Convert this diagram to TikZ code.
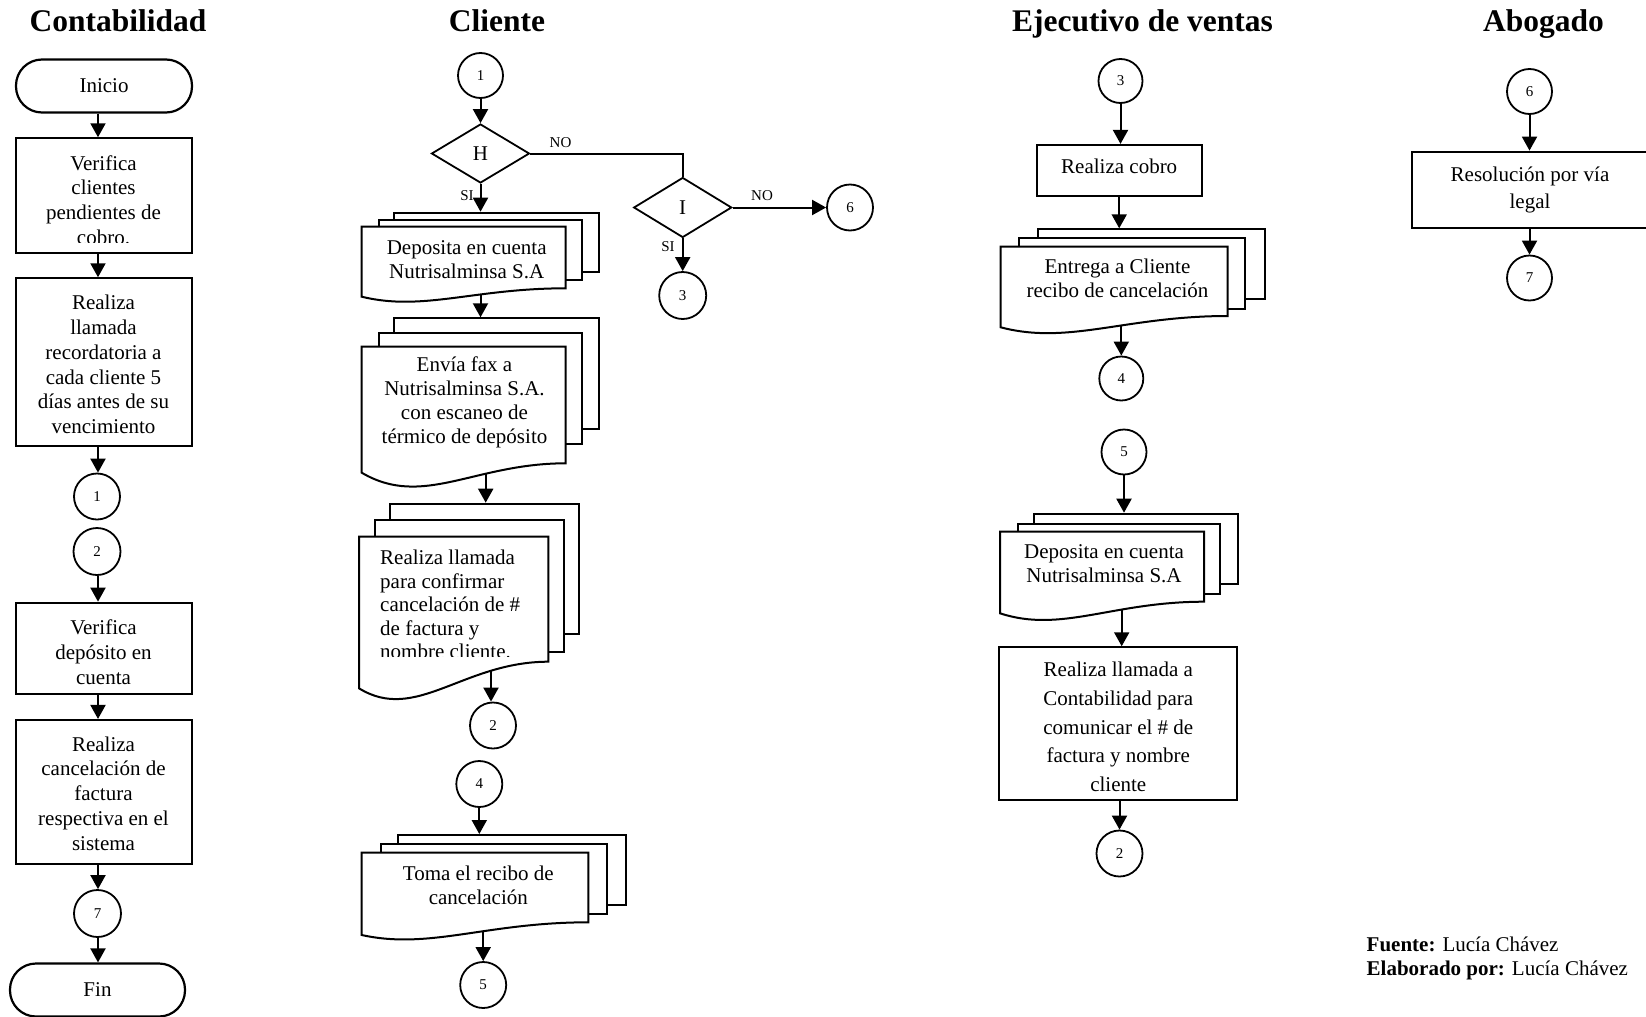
\documentclass[tikz,border=0pt]{standalone}
\usepackage{fontspec}
\setmainfont{Liberation Serif}
\usetikzlibrary{arrows.meta,shapes.geometric}
\pgfdeclarelayer{links}
\pgfsetlayers{links,main}

\tikzset{
  lanetitle/.style={anchor=base, inner sep=0pt, font=\fontsize{31.5}{36}\selectfont\bfseries},
  procbox/.style={draw, fill=white, line width=2.2pt, inner sep=0pt, font=\fontsize{21}{25}\selectfont},
  terminal/.style={procbox, rounded corners=26pt},
  connector/.style={circle, draw, fill=white, line width=1.8pt, inner sep=0pt,
    minimum size=46pt, font=\fontsize{15}{18}\selectfont},
  decision/.style={diamond, draw, fill=white, line width=1.8pt, inner sep=0pt,
    minimum width=98pt, minimum height=60pt, font=\fontsize{21}{25}\selectfont},
  docline/.style={draw, fill=white, line width=2pt, line join=miter},
  sheet/.style={docline, inner sep=0pt, anchor=north west},
  boxtext/.style={align=center, inner sep=0pt, font=\fontsize{21}{24.8}\selectfont},
  doctext/.style={align=center, inner sep=0pt, font=\fontsize{21}{24}\selectfont},
  branch/.style={inner sep=0pt, font=\fontsize{15}{18}\selectfont},
  flow/.style={line width=2pt, -{Triangle[length=14pt,width=15pt]}},
  link/.style={line width=2pt},
}

% a plain page of a multi-document stack: name, left, top, right, bottom
\newcommand\docsheet[5]{%
  \pgfmathsetmacro\sheetw{#4-#2}%
  \pgfmathsetmacro\sheeth{#5-#3}%
  \node[sheet, minimum width=\sheetw pt, minimum height=\sheeth pt] (#1) at (#2,#3) {};%
}
% the front page with a wavy lower edge:
% name, left, top, right, lower-right end, lower-left end, depth of the trough
\newcommand\docfront[7]{%
  \path[docline] (#2,#3) -- (#4,#3) -- (#4,#5)
    .. controls ({#4-0.45*(#4-#2)},#5) and ({#2+0.3*(#4-#2)},{#6+3*#7}) .. (#2,#6) -- cycle;
  \pgfmathsetmacro\sheetw{#4-#2}%
  \pgfmathsetmacro\sheeth{#6-#3}%
  \node[inner sep=0pt, anchor=north west, minimum width=\sheetw pt, minimum height=\sheeth pt] (#1) at (#2,#3) {};%
}

\begin{document}
\begin{tikzpicture}[x=1pt, y=-1pt]
\useasboundingbox (0,0) rectangle (1646,1017);

% ---------- lane titles ----------
\node[lanetitle] (tcon) at (118,31.5) {Contabilidad};
\node[lanetitle] (tcli) at (497,31.5) {Cliente};
\node[lanetitle] (teje) at (1142.5,31.5) {Ejecutivo de ventas};
\node[lanetitle] (tabo) at (1543.5,31.5) {Abogado};

% ---------- Contabilidad ----------
\node[terminal, minimum width=176pt, minimum height=53pt] (ini) at (104,86) {Inicio};
\node[procbox, minimum width=176pt, minimum height=114.7pt] (b1) at (104,195.7) {};
\begin{scope}
  \clip (17,139) rectangle (191,242.5);
  \node[boxtext] (b1t) at (103.5,200) {Verifica\\clientes\\pendientes de\\cobro.};
\end{scope}
\node[procbox, minimum width=176pt, minimum height=167.7pt] (b2) at (104,362.2) {};
\node[boxtext] (b2t) at (103.5,364.5) {Realiza\\llamada\\recordatoria a\\cada cliente 5\\días antes de su\\vencimiento};
\node[connector] (k1) at (97,496.5) {1};
\node[connector, minimum size=47pt] (k2) at (97,551.5) {2};
\node[procbox, minimum width=176pt, minimum height=91.3pt] (b3) at (104,648.4) {};
\node[boxtext] (b3t) at (103.5,652) {Verifica\\depósito en\\cuenta};
\node[procbox, minimum width=176pt, minimum height=144.3pt] (b4) at (104,792.2) {};
\node[boxtext] (b4t) at (103.5,793.5) {Realiza\\cancelación de\\factura\\respectiva en el\\sistema};
\node[connector, minimum size=47pt] (k7) at (97.5,913.5) {7};
\node[terminal, minimum width=175pt, minimum height=53pt] (fin) at (97.5,990) {Fin};

% ---------- Cliente ----------
\node[connector, minimum size=45pt] (c1) at (480.5,75.5) {1};
\node[decision, minimum height=59pt] (h) at (480.5,153.5) {H};
\node[decision] (i) at (682.7,207.5) {I};
\node[connector] (c6) at (850,207.5) {6};
\node[connector, minimum size=47pt] (c3) at (682.7,295.5) {3};
\node[branch] (noh) at (560.5,142.5) {NO};
\node[branch] (noi) at (762,196) {NO};
\node[branch] (sii) at (668,246.5) {SI};
\node[branch] (sih) at (467,195.5) {SI};

\docsheet{d1b}{393.3}{211.7}{597.7}{271}
\docsheet{d1m}{378.3}{219}{580.7}{279.3}
\docfront{d1f}{361.7}{226.7}{565.7}{288.3}{296.7}{5}
\node[doctext] (d1t) at (466.7,260) {Deposita en cuenta\\Nutrisalminsa S.A};

\docsheet{d2b}{393.3}{317.3}{597.7}{428.3}
\docsheet{d2m}{378.3}{332.3}{580.7}{443.3}
\docfront{d2f}{361.7}{346.7}{565.7}{463.3}{472.7}{12}
\node[doctext] (d2t) at (464.5,402) {Envía fax a\\Nutrisalminsa S.A.\\con escaneo de\\térmico de depósito};

\docsheet{d3b}{389.3}{502.7}{578.3}{633.3}
\docsheet{d3m}{374.3}{519.3}{562.7}{650.7}
\docfront{d3f}{359}{536.7}{548.3}{661.7}{688.3}{11.7}
\begin{scope}
  \clip (361,538) rectangle (547,656.7);
  \node[doctext, align=left, anchor=west, font=\fontsize{21}{23.5}\selectfont] (d3t) at (380,604.5)
    {Realiza llamada\\para confirmar\\cancelación de \#\\de factura y\\nombre cliente.};
\end{scope}
\node[connector] (cc2) at (493,725.5) {2};
\node[connector] (cc4) at (479.3,784) {4};

\docsheet{d4b}{397.3}{834}{625}{904}
\docsheet{d4m}{380}{843.3}{605.7}{913.3}
\docfront{d4f}{361.7}{852.7}{588.3}{922.3}{935}{5}
\node[doctext] (d4t) at (478.3,885) {Toma el recibo de\\cancelación};
\node[connector] (cc5) at (483.2,985) {5};

% ---------- Ejecutivo de ventas ----------
\node[connector, minimum size=44pt] (ec3) at (1120.5,81) {3};
\node[procbox, minimum width=165pt, minimum height=51pt] (erc) at (1119.2,170.5) {};
\node[boxtext] (erct) at (1119.2,166.5) {Realiza cobro};

\docsheet{d5b}{1036.7}{228.3}{1264}{298.3}
\docsheet{d5m}{1018.3}{237.3}{1244.3}{307.7}
\docfront{d5f}{1000.7}{246.7}{1227.7}{316}{327.3}{6}
\node[doctext] (d5t) at (1117.5,278.5) {Entrega a Cliente\\recibo de cancelación};
\node[connector, minimum size=44pt] (ec4) at (1121.3,378.5) {4};
\node[connector, minimum size=45pt] (ec5) at (1124,452) {5};

\docsheet{d6b}{1033.3}{512.7}{1236.7}{583.3}
\docsheet{d6m}{1016.7}{522.7}{1219.3}{592.7}
\docfront{d6f}{1000}{531.7}{1204}{601.7}{613.3}{6.7}
\node[doctext] (d6t) at (1104,564) {Deposita en cuenta\\Nutrisalminsa S.A};

\node[procbox, minimum width=237.4pt, minimum height=152.7pt] (eb) at (1118,723.7) {};
\node[boxtext, font=\fontsize{21}{28.6}\selectfont] (ebt) at (1118.3,727)
  {Realiza llamada a\\Contabilidad para\\comunicar el \# de\\factura y nombre\\cliente};
\node[connector] (ec2) at (1119.5,853.5) {2};

% ---------- Abogado ----------
\node[connector, minimum size=45pt] (ac6) at (1529.5,91.5) {6};
\node[procbox, minimum width=237.3pt, minimum height=76pt] (ab) at (1530.35,189.7) {};
\node[boxtext, font=\fontsize{21}{26.5}\selectfont] (abt) at (1530,190) {Resolución por vía\\legal};
\node[connector, minimum size=45pt] (ac7) at (1529.5,278) {7};

% ---------- source note ----------
\node[anchor=west, align=left, inner sep=0pt, font=\fontsize{21}{23.3}\selectfont] (note) at (1366.5,958.5)
  {\textbf{Fuente:} Lucía Chávez\\\textbf{Elaborado por:} Lucía Chávez};

% ---------- connectors (behind the shapes) ----------
\begin{pgfonlayer}{links}
  \coordinate (kx) at (98,0);
  \draw[flow] (ini.south -| kx) -- (b1.north -| kx);
  \draw[flow] (b1.south -| kx) -- (b2.north -| kx);
  \draw[flow] (b2.south -| kx) -- (k1.north -| kx);
  \draw[flow] (k2.south -| kx) -- (b3.north -| kx);
  \draw[flow] (b3.south -| kx) -- (b4.north -| kx);
  \draw[flow] (b4.south -| kx) -- (k7.north -| kx);
  \draw[flow] (k7.south -| kx) -- (fin.north -| kx);

  \draw[flow] (c1.south) -- (h.north);
  \draw[link] (h.east) -| (i.north);
  \draw[flow] (i.east) -- (c6.west);
  \draw[flow] (i.south) -- (c3.north);
  \draw[flow] (h.south) -- (h.south |- d1b.north);
  \draw[flow] (d1f.center -| h.south) -- (d2b.north -| h.south);
  \coordinate (xb) at (485.7,0);
  \draw[flow] (d2f.center -| xb) -- (d3b.north -| xb);
  \coordinate (xc) at (491,0);
  \draw[flow] (d3f.center -| xc) -- (cc2.north -| xc);
  \draw[flow] (cc4.south) -- (cc4.south |- d4b.north);
  \draw[flow] (d4f.center -| cc5) -- (cc5.north);

  \draw[flow] (ec3.south) -- (ec3.south |- erc.north);
  \draw[flow] (erc.south) -- (erc.south |- d5b.north);
  \draw[flow] (d5f.center -| ec4) -- (ec4.north);
  \draw[flow] (ec5.south) -- (ec5.south |- d6b.north);
  \coordinate (xf) at (1121.7,0);
  \draw[flow] (d6f.center -| xf) -- (eb.north -| xf);
  \draw[flow] (eb.south -| ec2) -- (ec2.north);

  \draw[flow] (ac6.south) -- (ac6.south |- ab.north);
  \draw[flow] (ab.south -| ac7) -- (ac7.north);
\end{pgfonlayer}
\end{tikzpicture}
\end{document}
